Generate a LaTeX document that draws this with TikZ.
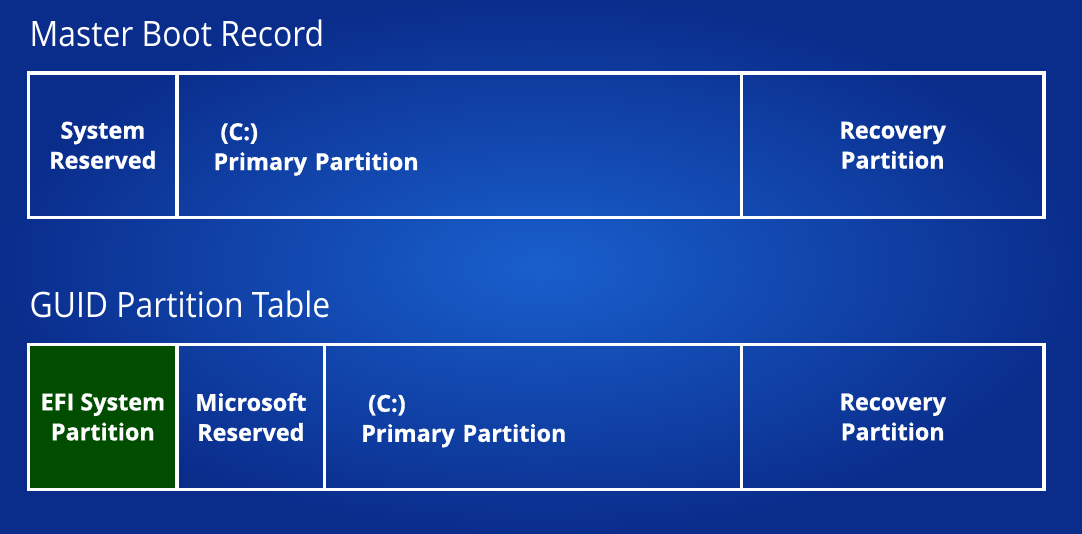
\documentclass[tikz,border=0pt]{standalone}
\usepackage{fontspec}
\setmainfont{Open Sans}[BoldFeatures={FakeBold=0.8}]
\newfontfamily\titlefont[FakeStretch=0.91]{Open Sans}
\usetikzlibrary{positioning}
\definecolor{bgouter}{RGB}{10,45,140}
\definecolor{bginner}{RGB}{25,95,205}
\definecolor{efigreen}{RGB}{0,77,0}

\begin{document}
\begin{tikzpicture}[
  x=1pt, y=-1pt,
  node distance=0pt,
  title/.style={anchor=base west, inner sep=0pt, text=white, font=\titlefont\fontsize{35}{42}\selectfont},
  cell/.style={rectangle, draw=white, line width=3.5pt, outer sep=0pt, minimum height=144.6pt, align=center, text=white, font=\fontsize{23.4}{30}\selectfont\bfseries},
  wide/.style={align=left, inner xsep=36.5pt, text height=18pt, text depth=28.5pt}
]
\useasboundingbox (0,0) rectangle (1082,533);
\shade[inner color=bginner, outer color=bgouter] (0,0) rectangle (1082,533);

\node[title] (mbr) at (29.5,46.7) {Master Boot Record};
\node[cell, minimum width=148.3pt, anchor=north west] (sysres) at (28.7,73) {System\\Reserved};
\node[cell, wide, text width=491.3pt, right=of sysres] (mbrc) {\hspace*{7pt}(C:)\\Primary Partition};
\node[cell, minimum width=302.7pt, right=of mbrc] (mbrrec) {Recovery\\Partition};

\node[title] (gpt) at (29.5,317.5) {GUID Partition Table};
\node[cell, fill=efigreen, minimum width=148.3pt, anchor=north west] (efi) at (28.7,344.7) {EFI System\\Partition};
\node[cell, minimum width=147.7pt, right=of efi] (msr) {Microsoft\\Reserved};
\node[cell, wide, text width=343.8pt, right=of msr] (gptc) {\hspace*{7pt}(C:)\\Primary Partition};
\node[cell, minimum width=302.5pt, right=of gptc] (gptrec) {Recovery\\Partition};
\end{tikzpicture}
\end{document}
